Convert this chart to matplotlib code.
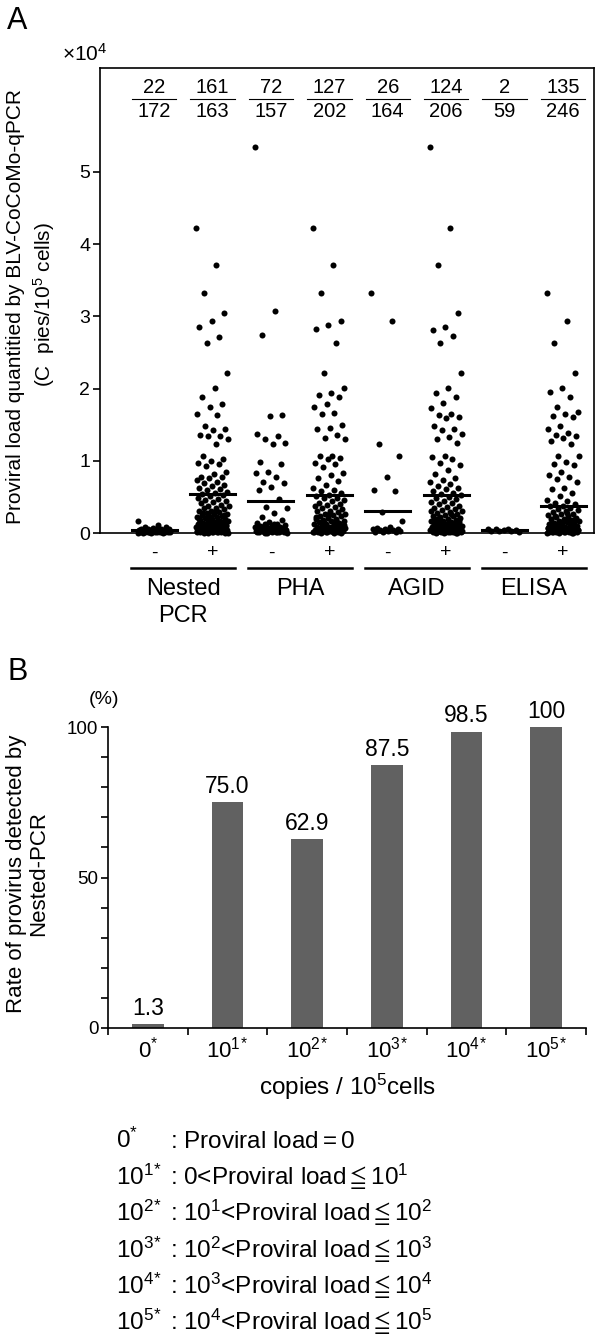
import numpy as np
import matplotlib
matplotlib.use("Agg")
import matplotlib.pyplot as plt
from matplotlib import transforms

plt.rcParams['font.family'] = ['Liberation Sans', 'Noto Sans CJK JP', 'DejaVu Sans']
plt.rcParams['mathtext.fontset'] = 'custom'
plt.rcParams['mathtext.rm'] = 'Liberation Sans'
plt.rcParams['mathtext.it'] = 'Liberation Sans:italic'
plt.rcParams['mathtext.bf'] = 'Liberation Sans:bold'
plt.rcParams['mathtext.fallback'] = 'stix'
plt.rcParams['mathtext.default'] = 'regular'

# ---------------- DATA: panel A (load in x10^4 copies / 10^5 cells) ----------------
group_names = ["Nested", "PHA", "AGID", "ELISA"]
signs = ["-", "+", "-", "+", "-", "+", "-", "+"]
numerators = [22, 161, 72, 127, 26, 124, 2, 135]
denominators = [172, 163, 157, 202, 164, 206, 59, 246]
mean_load = [0.04, 0.54, 0.44, 0.52, 0.31, 0.52, 0.04, 0.38]

nested_neg = [0.17, 0.11, 0.09, 0.08, 0.07, 0.06, 0.06, 0.05, 0.05, 0.05, 0.04, 0.04,
              0.04, 0.04, 0.03, 0.03, 0.03, 0.03, 0.03, 0.02, 0.02, 0.02, 0.02, 0.02,
              0.02, 0.01, 0.01, 0.01, 0.01, 0.01, 0.01, 0.00, 0.00, 0.00, 0.00]
nested_pos = [4.23, 3.71, 3.33, 3.04, 2.93, 2.85, 2.72, 2.63, 2.21, 2.01, 1.88, 1.79,
              1.74, 1.65, 1.64, 1.48, 1.44, 1.43, 1.36, 1.35, 1.34, 1.30, 1.23, 1.06,
              1.03, 1.00, 0.97, 0.95, 0.93, 0.84, 0.82, 0.78, 0.77, 0.76, 0.74, 0.71,
              0.69, 0.66, 0.65, 0.62, 0.61, 0.59, 0.57, 0.56, 0.54, 0.52, 0.51, 0.49,
              0.47, 0.46, 0.44, 0.43, 0.41, 0.39, 0.38, 0.37, 0.35, 0.34, 0.33, 0.31,
              0.30, 0.29, 0.28, 0.27, 0.26, 0.25, 0.24, 0.23, 0.22, 0.22, 0.21, 0.20,
              0.19, 0.18, 0.17, 0.17, 0.16, 0.15, 0.14, 0.14, 0.13, 0.12, 0.12, 0.11,
              0.10, 0.10, 0.09, 0.09, 0.08, 0.08, 0.07, 0.07, 0.06, 0.06, 0.05, 0.05,
              0.05, 0.04, 0.04, 0.04, 0.03, 0.03, 0.03, 0.02, 0.02, 0.02, 0.01, 0.01,
              0.01, 0.00, 0.00, 0.32, 0.28, 0.25, 0.21, 0.19, 0.16, 0.13, 0.11, 0.08,
              0.06, 0.04, 0.03, 0.02, 0.01, 0.00, 0.00, 0.02, 0.05, 0.09]
pha_neg = [5.34, 3.07, 2.74, 1.63, 1.62, 1.37, 1.35, 1.30, 1.24, 1.23, 0.98, 0.95,
           0.84, 0.83, 0.78, 0.71, 0.69, 0.64, 0.59, 0.47, 0.36, 0.34, 0.28, 0.22,
           0.18, 0.15, 0.14, 0.13, 0.12, 0.11, 0.10, 0.10, 0.09, 0.08, 0.08, 0.07,
           0.07, 0.06, 0.06, 0.05, 0.05, 0.05, 0.04, 0.04, 0.04, 0.03, 0.03, 0.03,
           0.02, 0.02, 0.02, 0.01, 0.01, 0.01, 0.00, 0.00, 0.12, 0.08, 0.05, 0.03,
           0.02, 0.01, 0.00, 0.06]
pha_pos = [4.23, 3.71, 3.33, 2.93, 2.88, 2.82, 2.63, 2.21, 2.01, 1.94, 1.91, 1.88,
           1.79, 1.74, 1.66, 1.65, 1.49, 1.45, 1.44, 1.36, 1.32, 1.30, 1.07, 1.06,
           1.04, 1.02, 0.97, 0.96, 0.92, 0.83, 0.80, 0.76, 0.72, 0.66, 0.62, 0.60,
           0.58, 0.55, 0.53, 0.51, 0.49, 0.48, 0.46, 0.44, 0.42, 0.40, 0.39, 0.37,
           0.36, 0.34, 0.33, 0.31, 0.30, 0.29, 0.27, 0.26, 0.25, 0.24, 0.23, 0.21,
           0.20, 0.19, 0.18, 0.17, 0.16, 0.15, 0.14, 0.13, 0.12, 0.12, 0.11, 0.10,
           0.09, 0.09, 0.08, 0.07, 0.07, 0.06, 0.06, 0.05, 0.05, 0.04, 0.04, 0.03,
           0.03, 0.03, 0.02, 0.02, 0.01, 0.01, 0.01, 0.00, 0.00, 0.27, 0.22, 0.18,
           0.15, 0.11, 0.08, 0.05, 0.03, 0.02, 0.01, 0.00, 0.04, 0.07]
agid_neg = [3.33, 2.93, 1.23, 1.07, 0.78, 0.60, 0.58, 0.29, 0.17, 0.08, 0.07, 0.06,
            0.05, 0.05, 0.04, 0.04, 0.03, 0.03, 0.02, 0.02, 0.01]
agid_pos = [5.34, 4.23, 3.71, 3.05, 2.85, 2.81, 2.73, 2.63, 2.21, 2.01, 1.94, 1.89,
            1.80, 1.73, 1.65, 1.64, 1.61, 1.59, 1.48, 1.44, 1.42, 1.37, 1.33, 1.30,
            1.24, 1.07, 1.05, 1.02, 0.97, 0.94, 0.87, 0.82, 0.76, 0.73, 0.70, 0.68,
            0.65, 0.63, 0.61, 0.58, 0.56, 0.54, 0.52, 0.50, 0.48, 0.47, 0.45, 0.43,
            0.41, 0.40, 0.38, 0.36, 0.35, 0.33, 0.32, 0.30, 0.29, 0.28, 0.26, 0.25,
            0.24, 0.23, 0.22, 0.21, 0.20, 0.19, 0.18, 0.17, 0.16, 0.15, 0.15, 0.14,
            0.13, 0.12, 0.12, 0.11, 0.10, 0.10, 0.09, 0.08, 0.08, 0.07, 0.07, 0.06,
            0.06, 0.05, 0.05, 0.04, 0.04, 0.04, 0.03, 0.03, 0.03, 0.02, 0.02, 0.02,
            0.01, 0.01, 0.01, 0.00, 0.00, 0.00, 0.31, 0.26, 0.21, 0.17, 0.13, 0.10,
            0.07, 0.05, 0.03, 0.02, 0.01, 0.00, 0.04, 0.09]
elisa_neg = [0.06, 0.05, 0.05, 0.04, 0.04, 0.03, 0.03, 0.03, 0.02]
elisa_pos = [3.33, 2.93, 2.63, 2.21, 2.01, 1.95, 1.88, 1.74, 1.67, 1.65, 1.62, 1.60,
             1.48, 1.44, 1.38, 1.36, 1.34, 1.31, 1.28, 1.23, 1.07, 1.06, 0.98, 0.96,
             0.94, 0.84, 0.81, 0.78, 0.75, 0.71, 0.62, 0.61, 0.55, 0.51, 0.46, 0.44,
             0.42, 0.40, 0.38, 0.37, 0.35, 0.33, 0.32, 0.30, 0.29, 0.27, 0.26, 0.25,
             0.24, 0.22, 0.21, 0.20, 0.19, 0.18, 0.17, 0.16, 0.15, 0.14, 0.14, 0.13,
             0.12, 0.11, 0.11, 0.10, 0.09, 0.09, 0.08, 0.08, 0.07, 0.07, 0.06, 0.06,
             0.05, 0.05, 0.05, 0.04, 0.04, 0.04, 0.03, 0.03, 0.03, 0.02, 0.02, 0.02,
             0.01, 0.01, 0.01, 0.00, 0.00, 0.00, 0.28, 0.23, 0.19, 0.15, 0.12, 0.09,
             0.06, 0.04, 0.02, 0.01, 0.00, 0.03, 0.07, 0.16]

# ---------------- DATA: panel B ----------------
load_classes = ["0$^{*}$", "10$^{1}$$^{*}$", "10$^{2}$$^{*}$", "10$^{3}$$^{*}$",
                "10$^{4}$$^{*}$", "10$^{5}$$^{*}$"]
detect_rate = [1.3, 75.0, 62.9, 87.5, 98.5, 100]
rate_labels = ["1.3", "75.0", "62.9", "87.5", "98.5", "100"]
legend_codes = ["0$^{*}$", "10$^{1}$$^{*}$", "10$^{2}$$^{*}$", "10$^{3}$$^{*}$",
                "10$^{4}$$^{*}$", "10$^{5}$$^{*}$"]
legend_desc = [": Proviral load$=$0",
               ": 0<Proviral load$\\leqq$10$^{1}$",
               ": 10$^{1}$<Proviral load$\\leqq$10$^{2}$",
               ": 10$^{2}$<Proviral load$\\leqq$10$^{3}$",
               ": 10$^{3}$<Proviral load$\\leqq$10$^{4}$",
               ": 10$^{4}$<Proviral load$\\leqq$10$^{5}$"]

# ---------------- FIGURE ----------------
W, H = 600, 1337
fig = plt.figure(figsize=(W / 100, H / 100), dpi=100)

# ---------------- PANEL A ----------------
axA = fig.add_axes([100 / W, 1 - 533 / H, 494 / W, 465 / H])
loads = [nested_neg, nested_pos, pha_neg, pha_pos, agid_neg, agid_pos, elisa_neg, elisa_pos]
golden = 0.6180339887
for i, vals in enumerate(loads):
    vals = np.asarray(vals)
    k = np.arange(len(vals))
    jitter = ((k * golden) % 1.0 - 0.5) * 0.56
    axA.scatter(i + jitter, vals, s=19, color='black', linewidths=0, clip_on=False, zorder=3)
    axA.plot([i - 0.385, i + 0.385], [mean_load[i]] * 2, color='black', lw=2.2, zorder=4)

axA.set_xlim(-0.925, 7.53)
axA.set_ylim(0, 6.44)
axA.set_yticks([0, 1, 2, 3, 4, 5])
axA.set_xticks([])
axA.tick_params(axis='y', direction='out', length=5, width=1.2, labelsize=14, pad=2)
for sp in axA.spines.values():
    sp.set_linewidth(1.2)

trA = transforms.blended_transform_factory(axA.transData, axA.transAxes)
for i in range(8):
    axA.text(i, -0.043, signs[i], transform=trA, ha='center', va='center', fontsize=14)
    axA.text(i, 0.958, str(numerators[i]), transform=trA, ha='center', va='center', fontsize=14.5)
    axA.text(i, 0.906, str(denominators[i]), transform=trA, ha='center', va='center', fontsize=14.5)
    axA.plot([i - 0.38, i + 0.38], [0.934, 0.934], transform=trA, color='black', lw=0.8)
for g, name in enumerate(group_names):
    c = 2 * g + 0.5
    axA.plot([c - 0.89, c + 0.89], [-0.075, -0.075], transform=trA, color='black',
             lw=1.8, clip_on=False)
    axA.text(c, -0.133, name, transform=trA, ha='center', va='baseline', fontsize=17)
axA.text(0.5, -0.191, "PCR", transform=trA, ha='center', va='baseline', fontsize=17)

fig.text(62 / W, 1 - 54 / H, "×10$^{4}$", ha='left', va='center', fontsize=15)
fig.text(7 / W, 1 - 21 / H, "A", ha='left', va='center', fontsize=22)
fig.text(16 / W, 1 - 306 / H, "Proviral load quantitied by BLV-CoCoMo-qPCR", rotation=90,
         ha='center', va='center', fontsize=15)
fig.text(44 / W, 1 - 305 / H, "(C  pies/10$^{5}$ cells)", rotation=90,
         ha='center', va='center', fontsize=15)

# ---------------- PANEL B ----------------
axB = fig.add_axes([108 / W, 1 - 1028 / H, 478 / W, 301 / H])
xb = np.arange(len(detect_rate))
axB.bar(xb, detect_rate, width=0.4, color='#616161')
for x, v, lab in zip(xb, detect_rate, rate_labels):
    axB.annotate(lab, (x, v), xytext=(0, 6.5), textcoords='offset points',
                 ha='center', va='baseline', fontsize=16.5)
axB.set_xlim(-0.5, 5.5)
axB.set_ylim(0, 100)
axB.spines['top'].set_visible(False)
axB.spines['right'].set_visible(False)
axB.spines['left'].set_linewidth(1.2)
axB.spines['bottom'].set_linewidth(1.2)
axB.set_yticks([0, 50, 100])
axB.set_yticks(np.arange(0, 101, 10), minor=True)
axB.set_xticks(np.arange(-0.5, 6, 1.0))
axB.set_xticklabels([])
axB.set_xticks(xb, minor=True)
axB.set_xticklabels(load_classes, minor=True)
axB.tick_params(axis='y', which='both', direction='out', length=5, width=1.2, labelsize=13.5, pad=2)
axB.tick_params(axis='x', which='major', direction='out', length=5, width=1.2)
axB.tick_params(axis='x', which='minor', length=0, labelsize=16, pad=6)

fig.text(104 / W, 1 - 700 / H, "(%)", ha='center', va='center', fontsize=14)
fig.text(7 / W, 1 - 672 / H, "B", ha='left', va='center', fontsize=22)
fig.text(17 / W, 1 - 874 / H, "Rate of provirus detected by", rotation=90,
         ha='center', va='center', fontsize=16)
fig.text(39 / W, 1 - 873 / H, "Nested-PCR", rotation=90, ha='center', va='center', fontsize=16)
fig.text(348 / W, 1 - 1095 / H, "copies / 10$^{5}$cells", ha='center', va='baseline', fontsize=17.5)

# ---------------- LEGEND TEXT ----------------
baselines = [1148, 1185, 1221, 1258, 1294, 1330]
for code, desc, yb in zip(legend_codes, legend_desc, baselines):
    fig.text(116 / W, 1 - yb / H, code, ha='left', va='baseline', fontsize=17.5)
    fig.text(170 / W, 1 - yb / H, desc, ha='left', va='baseline', fontsize=17.5)

fig.savefig("out.png", dpi=100)
